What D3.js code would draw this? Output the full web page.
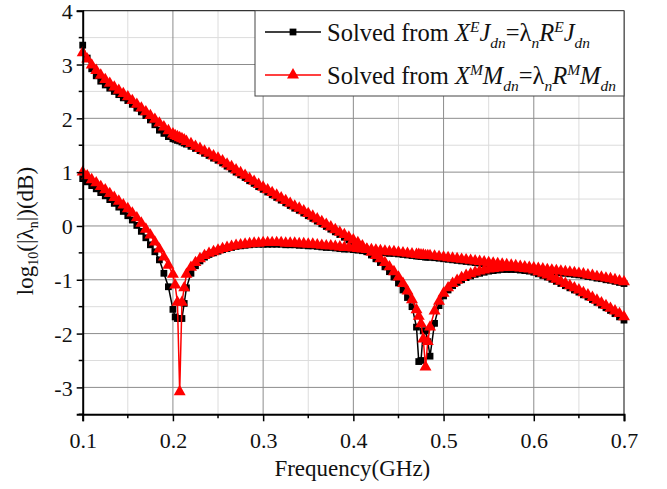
<!DOCTYPE html>
<html>
<head>
<meta charset="utf-8">
<script src="https://cdn.jsdelivr.net/npm/d3@7"></script>
<style>
    body { margin: 0; background: #fff; }
    #chart svg { display: block; }
</style>
</head>
<body>
<div id="chart"></div>
<script>
// frequency samples (GHz), denser around the two resonances
const freq = [
    0.100, 0.105, 0.110, 0.115, 0.120, 0.125, 0.130, 0.135, 0.140, 0.145,
    0.150, 0.155, 0.160, 0.165, 0.170, 0.175, 0.180, 0.185, 0.190, 0.195,
    0.200, 0.2025, 0.205, 0.2075, 0.210, 0.2125, 0.215, 0.220, 0.225, 0.230, 0.235, 0.240, 0.245,
    0.250, 0.255, 0.260, 0.265, 0.270, 0.275, 0.280, 0.285, 0.290, 0.295,
    0.300, 0.305, 0.310, 0.315, 0.320, 0.325, 0.330, 0.335, 0.340, 0.345,
    0.350, 0.355, 0.360, 0.365, 0.370, 0.375, 0.380, 0.385, 0.390, 0.395,
    0.400, 0.405, 0.410, 0.415, 0.420, 0.425, 0.430, 0.435, 0.440, 0.445,
    0.450, 0.455, 0.460, 0.465, 0.470, 0.4725, 0.475, 0.4775, 0.480, 0.4825, 0.485, 0.490, 0.495,
    0.500, 0.505, 0.510, 0.515, 0.520, 0.525, 0.530, 0.535, 0.540, 0.545,
    0.550, 0.555, 0.560, 0.565, 0.570, 0.575, 0.580, 0.585, 0.590, 0.595,
    0.600, 0.605, 0.610, 0.615, 0.620, 0.625, 0.630, 0.635, 0.640, 0.645,
    0.650, 0.655, 0.660, 0.665, 0.670, 0.675, 0.680, 0.685, 0.690, 0.695,
    0.700
];

// solved from X^E J = lambda R^E J (black squares)
const mode1E = [
    3.36, 3.12, 2.92, 2.79, 2.69, 2.62, 2.56, 2.50, 2.44, 2.38,
    2.33, 2.26, 2.19, 2.12, 2.05, 1.97, 1.88, 1.78, 1.72, 1.66,
    1.62, 1.61, 1.59, 1.58, 1.56, 1.54, 1.52, 1.48, 1.44, 1.40, 1.35, 1.31, 1.26,
    1.22, 1.17, 1.11, 1.06, 1.00, 0.95, 0.90, 0.84, 0.79, 0.73,
    0.68, 0.63, 0.58, 0.53, 0.48, 0.43, 0.38, 0.33, 0.29, 0.24,
    0.19, 0.14, 0.09, 0.04, -0.01, -0.06, -0.11, -0.16, -0.21, -0.26,
    -0.31, -0.36, -0.42, -0.48, -0.54, -0.61, -0.68, -0.76, -0.85, -0.95,
    -1.06, -1.19, -1.33, -1.50, -1.88, -2.52, -2.50, -1.95, -1.95, -2.15, -2.42, -1.81, -1.48,
    -1.30, -1.19, -1.11, -1.05, -1.00, -0.96, -0.93, -0.90, -0.88, -0.86,
    -0.84, -0.83, -0.82, -0.81, -0.81, -0.81, -0.81, -0.82, -0.83, -0.84,
    -0.86, -0.89, -0.92, -0.95, -0.99, -1.03, -1.07, -1.11, -1.15, -1.19,
    -1.23, -1.28, -1.32, -1.37, -1.42, -1.47, -1.52, -1.57, -1.63, -1.69,
    -1.75
];
const mode2E = [
    0.88, 0.82, 0.75, 0.69, 0.62, 0.56, 0.49, 0.42, 0.35, 0.27,
    0.19, 0.11, 0.01, -0.10, -0.22, -0.35, -0.48, -0.63, -0.88, -1.13,
    -1.55, -1.69, -1.72, -1.72, -1.72, -1.44, -1.15, -0.88, -0.74, -0.65, -0.58, -0.53, -0.50,
    -0.47, -0.44, -0.42, -0.40, -0.38, -0.37, -0.36, -0.35, -0.34, -0.34,
    -0.34, -0.34, -0.34, -0.34, -0.34, -0.35, -0.35, -0.35, -0.36, -0.36,
    -0.37, -0.37, -0.38, -0.39, -0.40, -0.40, -0.41, -0.42, -0.43, -0.43,
    -0.44, -0.45, -0.46, -0.47, -0.47, -0.48, -0.49, -0.50, -0.51, -0.51,
    -0.52, -0.53, -0.54, -0.55, -0.56, -0.56, -0.57, -0.57, -0.58, -0.58, -0.58, -0.59, -0.60,
    -0.61, -0.62, -0.63, -0.64, -0.65, -0.66, -0.67, -0.68, -0.69, -0.70,
    -0.71, -0.72, -0.73, -0.74, -0.75, -0.76, -0.77, -0.78, -0.79, -0.80,
    -0.81, -0.82, -0.83, -0.84, -0.85, -0.86, -0.87, -0.88, -0.89, -0.90,
    -0.91, -0.92, -0.94, -0.95, -0.97, -0.98, -1.00, -1.01, -1.03, -1.05,
    -1.07
];

// solved from X^M M = lambda R^M M (red triangles)
const mode1M = [
    3.22, 3.10, 2.99, 2.89, 2.80, 2.72, 2.65, 2.58, 2.52, 2.46,
    2.40, 2.33, 2.26, 2.19, 2.12, 2.05, 1.98, 1.91, 1.84, 1.77,
    1.71, 1.68, 1.66, 1.64, 1.62, 1.60, 1.57, 1.53, 1.48, 1.44, 1.39, 1.35, 1.30,
    1.26, 1.21, 1.15, 1.10, 1.04, 0.99, 0.94, 0.88, 0.83, 0.77,
    0.72, 0.67, 0.62, 0.57, 0.52, 0.47, 0.42, 0.37, 0.33, 0.28,
    0.23, 0.18, 0.13, 0.08, 0.03, -0.02, -0.07, -0.12, -0.16, -0.21,
    -0.26, -0.31, -0.37, -0.43, -0.49, -0.55, -0.61, -0.68, -0.76, -0.85,
    -0.95, -1.07, -1.21, -1.37, -1.56, -1.68, -1.82, -2.10, -2.62, -2.15, -1.88, -1.58, -1.40,
    -1.25, -1.15, -1.07, -1.01, -0.96, -0.92, -0.89, -0.86, -0.84, -0.82,
    -0.80, -0.79, -0.78, -0.77, -0.77, -0.77, -0.77, -0.78, -0.79, -0.80,
    -0.82, -0.85, -0.88, -0.91, -0.95, -0.99, -1.03, -1.07, -1.11, -1.15,
    -1.19, -1.24, -1.28, -1.33, -1.38, -1.43, -1.48, -1.53, -1.58, -1.63,
    -1.69
];
const mode2M = [
    1.00, 0.93, 0.86, 0.80, 0.73, 0.67, 0.60, 0.53, 0.46, 0.39,
    0.32, 0.24, 0.15, 0.05, -0.06, -0.17, -0.30, -0.43, -0.58, -0.73,
    -0.90, -1.10, -1.42, -3.08, -1.42, -1.15, -0.90, -0.77, -0.68, -0.61, -0.55, -0.51, -0.48,
    -0.45, -0.42, -0.40, -0.38, -0.36, -0.35, -0.34, -0.33, -0.32, -0.32,
    -0.31, -0.31, -0.31, -0.31, -0.31, -0.32, -0.32, -0.32, -0.33, -0.33,
    -0.34, -0.34, -0.35, -0.36, -0.37, -0.37, -0.38, -0.39, -0.40, -0.40,
    -0.41, -0.42, -0.43, -0.44, -0.44, -0.45, -0.46, -0.47, -0.48, -0.48,
    -0.49, -0.50, -0.51, -0.52, -0.53, -0.53, -0.54, -0.54, -0.55, -0.55, -0.55, -0.56, -0.57,
    -0.58, -0.59, -0.60, -0.61, -0.62, -0.63, -0.64, -0.65, -0.66, -0.67,
    -0.68, -0.69, -0.70, -0.71, -0.72, -0.73, -0.74, -0.75, -0.76, -0.77,
    -0.78, -0.79, -0.80, -0.81, -0.82, -0.83, -0.84, -0.85, -0.86, -0.87,
    -0.88, -0.89, -0.91, -0.92, -0.94, -0.95, -0.97, -0.98, -1.00, -1.02,
    -1.04
];

const xTicks = [0.1, 0.2, 0.3, 0.4, 0.5, 0.6, 0.7];
const xMinorTicks = [0.15, 0.25, 0.35, 0.45, 0.55, 0.65];
const yTicks = [-3, -2, -1, 0, 1, 2, 3, 4];
const yMinorTicks = [-3.5, -2.5, -1.5, -0.5, 0.5, 1.5, 2.5, 3.5];

// legend text pieces: [text, italic, position] where position is "", "sup" or "sub"
const legendE = [["Solved from ", 0, ""], ["X", 1, ""], ["E", 1, "sup"], ["J", 1, ""], ["dn", 1, "sub"],
    ["=λ", 0, ""], ["n", 1, "sub"], ["R", 1, ""], ["E", 1, "sup"], ["J", 1, ""], ["dn", 1, "sub"]];
const legendM = [["Solved from ", 0, ""], ["X", 1, ""], ["M", 1, "sup"], ["M", 1, ""], ["dn", 1, "sub"],
    ["=λ", 0, ""], ["n", 1, "sub"], ["R", 1, ""], ["M", 1, "sup"], ["M", 1, ""], ["dn", 1, "sub"]];

const width = 667, height = 489;
const margin = {top: 10.7, right: 43, bottom: 74.7, left: 82.7};
const font = "'Liberation Serif', 'Times New Roman', serif";

const svg = d3.select("#chart")
    .append("svg")
    .attr("width", width)
    .attr("height", height)
    .style("font-family", font);

svg.append("rect").attr("width", width).attr("height", height).attr("fill", "#fff");

const x = d3.scaleLinear().domain([0.1, 0.7]).range([margin.left, width - margin.right]);
const y = d3.scaleLinear().domain([-3.5, 4]).range([height - margin.bottom, margin.top]);

// grid
const grid = svg.append("g");
grid.selectAll(".xminor").data(xMinorTicks).enter().append("line")
    .attr("x1", d => x(d)).attr("x2", d => x(d))
    .attr("y1", y(-3.5)).attr("y2", y(4))
    .attr("stroke", "#dcdcdc").attr("stroke-width", 1);
grid.selectAll(".yminor").data(yMinorTicks).enter().append("line")
    .attr("x1", x(0.1)).attr("x2", x(0.7))
    .attr("y1", d => y(d)).attr("y2", d => y(d))
    .attr("stroke", "#dcdcdc").attr("stroke-width", 1);
grid.selectAll(".xmajor").data(xTicks.slice(1, -1)).enter().append("line")
    .attr("x1", d => x(d)).attr("x2", d => x(d))
    .attr("y1", y(-3.5)).attr("y2", y(4))
    .attr("stroke", "#8c8c8c").attr("stroke-width", 1);
grid.selectAll(".ymajor").data(yTicks.slice(0, -1)).enter().append("line")
    .attr("x1", x(0.1)).attr("x2", x(0.7))
    .attr("y1", d => y(d)).attr("y2", d => y(d))
    .attr("stroke", "#8c8c8c").attr("stroke-width", 1);

// frame top / right
svg.append("line").attr("x1", x(0.1)).attr("x2", x(0.7)).attr("y1", y(4)).attr("y2", y(4))
    .attr("stroke", "#333").attr("stroke-width", 1.2);
svg.append("line").attr("x1", x(0.7)).attr("x2", x(0.7)).attr("y1", y(4)).attr("y2", y(-3.5))
    .attr("stroke", "#333").attr("stroke-width", 1.2);

// series
function drawSeries(values, color, symbolType, symbolSize) {
    const pts = freq.map((f, i) => [f, values[i]]);
    const line = d3.line().x(d => x(d[0])).y(d => y(d[1]));
    const g = svg.append("g");
    g.append("path")
        .attr("d", line(pts))
        .attr("fill", "none")
        .attr("stroke", color)
        .attr("stroke-width", 1.5);
    g.selectAll("path.marker").data(pts).enter().append("path")
        .attr("class", "marker")
        .attr("d", d3.symbol().type(symbolType).size(symbolSize))
        .attr("transform", d => `translate(${x(d[0])},${y(d[1])})`)
        .attr("fill", color);
}

drawSeries(mode1E, "#000", d3.symbolSquare, 46);
drawSeries(mode2E, "#000", d3.symbolSquare, 46);
drawSeries(mode1M, "#ff0000", d3.symbolTriangle, 62);
drawSeries(mode2M, "#ff0000", d3.symbolTriangle, 62);

// axes
const xAxis = d3.axisBottom(x).tickValues(xTicks).tickSize(7).tickPadding(6).tickFormat(d3.format(".1f"));
const yAxis = d3.axisLeft(y).tickValues(yTicks).tickSize(6).tickPadding(4).tickFormat(d => d);

const gx = svg.append("g").attr("transform", `translate(0,${y(-3.5)})`).call(xAxis);
const gy = svg.append("g").attr("transform", `translate(${x(0.1)},0)`).call(yAxis);

gx.selectAll(".minor").data(xMinorTicks).enter().append("line")
    .attr("x1", d => x(d)).attr("x2", d => x(d)).attr("y1", 0).attr("y2", 4)
    .attr("stroke", "#000").attr("stroke-width", 1.5);
gy.selectAll(".minor").data(yMinorTicks).enter().append("line")
    .attr("x1", -4).attr("x2", 0).attr("y1", d => y(d)).attr("y2", d => y(d))
    .attr("stroke", "#000").attr("stroke-width", 1.5);

[gx, gy].forEach(g => {
    g.select(".domain").attr("stroke", "#000").attr("stroke-width", 2);
    g.selectAll(".tick line").attr("stroke", "#000").attr("stroke-width", 1.5);
    g.selectAll(".tick text").attr("font-family", font).attr("font-size", 22).attr("fill", "#111");
});
gx.selectAll(".tick text").attr("dy", "0.95em");
gy.selectAll(".tick text").attr("dy", "0.35em");

// axis titles
svg.append("text")
    .attr("x", (x(0.1) + x(0.7)) / 2 - 1)
    .attr("y", 476)
    .attr("text-anchor", "middle")
    .attr("font-size", 23)
    .attr("fill", "#111")
    .text("Frequency(GHz)");

const yl = svg.append("text")
    .attr("transform", "translate(33,231) rotate(-90)")
    .attr("text-anchor", "middle")
    .attr("font-size", 23)
    .attr("fill", "#111");
yl.append("tspan").text("log");
yl.append("tspan").attr("font-size", 14).attr("dy", 5).text("10");
yl.append("tspan").attr("dy", -5).text("(|λ");
yl.append("tspan").attr("font-size", 14).attr("dy", 5).text("n");
yl.append("tspan").attr("dy", -5).text("|)(dB)");

// legend
const legend = svg.append("g");
legend.append("rect")
    .attr("x", 255).attr("y", y(4))
    .attr("width", x(0.7) - 255).attr("height", 96 - y(4))
    .attr("fill", "#fff").attr("stroke", "#444").attr("stroke-width", 1);

function legendRow(parts, yy, color, symbolType, symbolSize) {
    legend.append("line").attr("x1", 265).attr("x2", 321).attr("y1", yy).attr("y2", yy)
        .attr("stroke", color).attr("stroke-width", 1.5);
    legend.append("path")
        .attr("d", d3.symbol().type(symbolType).size(symbolSize))
        .attr("transform", `translate(293,${yy})`)
        .attr("fill", color);
    const t = legend.append("text")
        .attr("x", 327).attr("y", yy + 9)
        .attr("font-size", 24.5).attr("fill", "#111");
    let shift = 0;
    parts.forEach(p => {
        const target = p[2] === "sup" ? -9 : p[2] === "sub" ? 7 : 0;
        t.append("tspan")
            .attr("dy", target - shift)
            .attr("font-size", p[2] ? 15.5 : 24.5)
            .attr("font-style", p[1] ? "italic" : "normal")
            .text(p[0]);
        shift = target;
    });
}

legendRow(legendE, 32, "#000", d3.symbolSquare, 46);
legendRow(legendM, 75, "#ff0000", d3.symbolTriangle, 62);
</script>
</body>
</html>
